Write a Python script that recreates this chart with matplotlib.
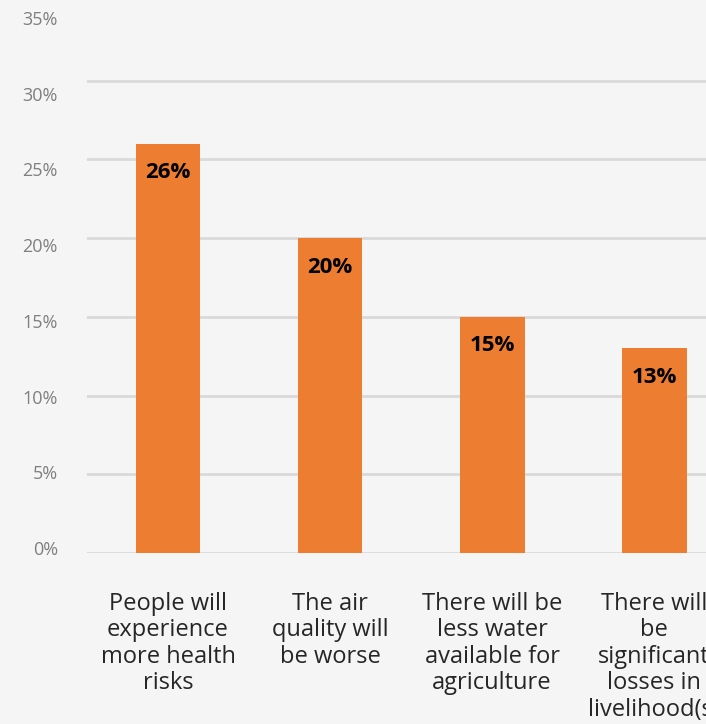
import matplotlib
matplotlib.use("Agg")
import matplotlib.pyplot as plt

categories = [
    "People will\nexperience\nmore health\nrisks",
    "The air\nquality will\nbe worse",
    "There will be\nless water\navailable for\nagriculture",
    "There will\nbe\nsignificant\nlosses in\nlivelihood(s)",
]
values = [0.26, 0.20, 0.15, 0.13]
value_labels = ["26%", "20%", "15%", "13%"]
y_ticks = [0.0, 0.05, 0.10, 0.15, 0.20, 0.25, 0.30, 0.35]
y_tick_labels = ["0%", "5%", "10%", "15%", "20%", "25%", "30%", "35%"]

plt.rcParams['font.family'] = ['Open Sans', 'DejaVu Sans']
BG = '#f5f5f5'
ORANGE = '#ED7D31'
W, H = 706, 724

fig = plt.figure(figsize=(W / 100, H / 100), dpi=100, facecolor=BG)
ax = fig.add_axes([87 / W, 1 - 553 / H, 1 - 87 / W, (553 - 2) / H])
ax.set_facecolor(BG)

x = range(len(values))
bars = ax.bar(x, values, width=0.4, color=ORANGE, zorder=3)
ax.set_xlim(-0.5, 3.32)
ax.set_ylim(0, 0.35)

# gridlines (no labels here, labels are drawn on the overlay axes)
ax.set_yticks(y_ticks[:-1])
ax.set_yticklabels([])
ax.tick_params(axis='y', length=0)
ax.grid(axis='y', color='#d9d9d9', lw=2, zorder=0)
for s in ax.spines.values():
    s.set_visible(False)

ax.set_xticks(list(x))
ax.set_xticklabels(categories, fontsize=17, color='#262626', va='top',
                   linespacing=1.14)
ax.tick_params(axis='x', length=0, pad=28)

for b, lab in zip(bars, value_labels):
    ax.annotate(lab, (b.get_x() + b.get_width() / 2, b.get_height()),
                xytext=(0, -29), textcoords='offset pixels',
                ha='center', va='center', fontsize=16, fontweight='bold',
                color='black', zorder=4)

# y tick labels
ax2 = fig.add_axes([87 / W, 1 - 548 / H, 0.01, (548 - 18) / H])
ax2.patch.set_alpha(0)
ax2.set_ylim(0, 0.35)
ax2.set_yticks(y_ticks)
ax2.set_yticklabels(y_tick_labels, fontsize=13, color='#7f7f7f')
ax2.tick_params(axis='y', length=0, pad=21)
ax2.set_xticks([])
for s in ax2.spines.values():
    s.set_visible(False)

fig.savefig("out.png", dpi=100, facecolor=BG)
